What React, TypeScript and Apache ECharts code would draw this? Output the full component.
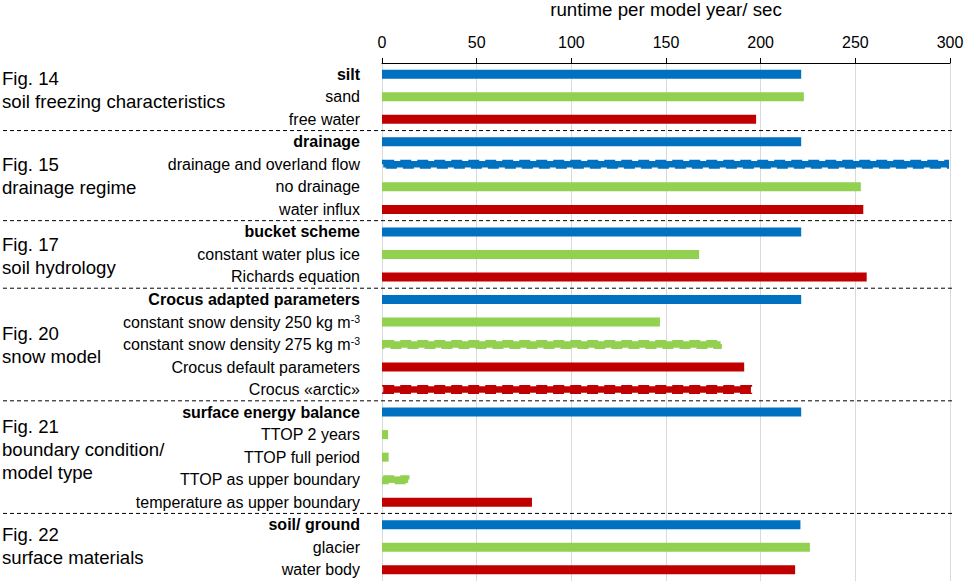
import React, { useEffect, useRef } from "react";
import * as echarts from "echarts";

// ---- data ----
const categories = [
  "silt", "sand", "free water",
  "drainage", "drainage and overland flow", "no drainage", "water influx",
  "bucket scheme", "constant water plus ice", "Richards equation",
  "Crocus adapted parameters", "constant snow density 250 kg m-3", "constant snow density 275 kg m-3",
  "Crocus default parameters", "Crocus «arctic»",
  "surface energy balance", "TTOP 2 years", "TTOP full period", "TTOP as upper boundary",
  "temperature as upper boundary",
  "soil/ ground", "glacier", "water body",
];
const runtimes = [
  221.4, 222.8, 197.6,
  221.4, 299.5, 252.9, 254.2,
  221.4, 167.5, 256,
  221.4, 146.8, 179.5, 191.3, 195.5,
  221.4, 3.2, 3.5, 14.5, 79.2,
  221, 226, 218.2,
];
// role of each run: reference (blue), variant (green), alternative (red)
const roles = [
  "ref", "var", "alt",
  "ref", "ref", "var", "alt",
  "ref", "var", "alt",
  "ref", "var", "var", "alt", "alt",
  "ref", "var", "var", "var", "alt",
  "ref", "var", "alt",
];
const dashedCategories = [
  "drainage and overland flow",
  "constant snow density 275 kg m-3",
  "Crocus «arctic»",
  "TTOP as upper boundary",
];
const groupLabels = [
  "Fig. 14\nsoil freezing characteristics",
  "Fig. 15\ndrainage regime",
  "Fig. 17\nsoil hydrology",
  "Fig. 20\nsnow model",
  "Fig. 21\nboundary condition/\nmodel type",
  "Fig. 22\nsurface materials",
];
const groupSizes = [3, 4, 3, 5, 5, 3];
const xTicks = { min: 0, max: 300, interval: 50 };
const axisTitle = "runtime per model year/ sec";

// ---- layout / style constants ----
const FONT = '"Liberation Sans", Arial, sans-serif';
const roleColors: Record<string, string> = { ref: "#0070C0", var: "#92D050", alt: "#C00000" };
const groupLabelNudge = [-7, 0, 2, 0, -8, -1.5];
const CAT_FONT = 16;

export default function App() {
  const ref = useRef<HTMLDivElement>(null);

  useEffect(() => {
    if (!ref.current) return;
    const chart = echarts.init(ref.current, null, { renderer: "svg" });

    const firstOfGroup = new Set<number>();
    let acc = 0;
    groupSizes.forEach((n) => {
      firstOfGroup.add(acc);
      acc += n;
    });

    const series: any[] = [];
    (["ref", "var", "alt"] as const).forEach((role) => {
      [false, true].forEach((dashed) => {
        series.push({
          type: "bar",
          name: role + (dashed ? "-dashed" : ""),
          barWidth: 9,
          barGap: "-100%",
          itemStyle: dashed
            ? {
                color: roleColors[role],
                borderColor: roleColors[role],
                borderWidth: 2.5,
                borderType: [11, 6],
              }
            : { color: roleColors[role] },
          data: categories.map((c, i) =>
            roles[i] === role && dashedCategories.includes(c) === dashed ? runtimes[i] : null
          ),
        });
      });
    });

    const option: any = {
      animation: false,
      textStyle: { fontFamily: FONT },
      grid: {
        left: 382,
        top: 63,
        width: 568,
        height: 518,
        containLabel: false,
        outerBoundsMode: "none",
      },
      xAxis: {
        type: "value",
        position: "top",
        min: xTicks.min,
        max: xTicks.max,
        interval: xTicks.interval,
        name: axisTitle,
        nameLocation: "middle",
        nameGap: 44,
        nameMoveOverlap: false,
        nameTextStyle: { fontSize: 18.7, color: "#000", fontFamily: FONT },
        axisLine: { show: true, lineStyle: { color: "#000", width: 1 } },
        axisTick: { show: true, length: 5, lineStyle: { color: "#000" } },
        axisLabel: { fontSize: 16, color: "#000", margin: 13, fontFamily: FONT },
        splitLine: { show: true, lineStyle: { color: "#D9D9D9", width: 1 } },
      },
      yAxis: {
        type: "category",
        inverse: true,
        data: categories,
        axisLine: { show: false },
        axisTick: { show: false },
        axisLabel: {
          margin: 22,
          fontSize: CAT_FONT,
          color: "#000",
          fontFamily: FONT,
          formatter: (value: string, index: number) => {
            const style = firstOfGroup.has(index) ? "b" : "n";
            if (value.endsWith("m-3")) {
              return `{${style}|${value.slice(0, -2)}}{sup|-3}`;
            }
            return `{${style}|${value}}`;
          },
          rich: {
            n: { fontSize: CAT_FONT, color: "#000", fontFamily: FONT, lineHeight: 18 },
            b: { fontSize: CAT_FONT, color: "#000", fontFamily: FONT, fontWeight: "bold", lineHeight: 18 },
            sup: { fontSize: 10.5, color: "#000", fontFamily: FONT, lineHeight: 18, verticalAlign: "top" },
          },
        },
        splitLine: { show: false },
      },
      series,
    };

    chart.setOption(option);

    const centers = categories.map((c) => chart.convertToPixel({ yAxisIndex: 0 }, c) as number);
    const graphics: any[] = [];
    let start = 0;
    groupSizes.forEach((n, g) => {
      const end = start + n - 1;
      const mid = (centers[start] + centers[end]) / 2 + groupLabelNudge[g];
      graphics.push({
        type: "text",
        x: 2,
        y: mid,
        style: {
          text: groupLabels[g],
          fontSize: 18.6,
          fontFamily: FONT,
          fill: "#000",
          lineHeight: 23,
          verticalAlign: "middle",
          align: "left",
        },
      });
      if (g < groupSizes.length - 1) {
        const yb = (centers[end] + centers[end + 1]) / 2;
        graphics.push({
          type: "line",
          shape: { x1: 3, y1: yb, x2: 953, y2: yb },
          style: { stroke: "#000", lineWidth: 1, lineDash: [4, 3] },
        });
      }
      start += n;
    });
    chart.setOption({ graphic: graphics });

    return () => chart.dispose();
  }, []);

  return (
    <div
      ref={ref}
      style={{ position: "absolute", left: 0, top: 0, width: 965, height: 582, background: "#fff" }}
    />
  );
}
